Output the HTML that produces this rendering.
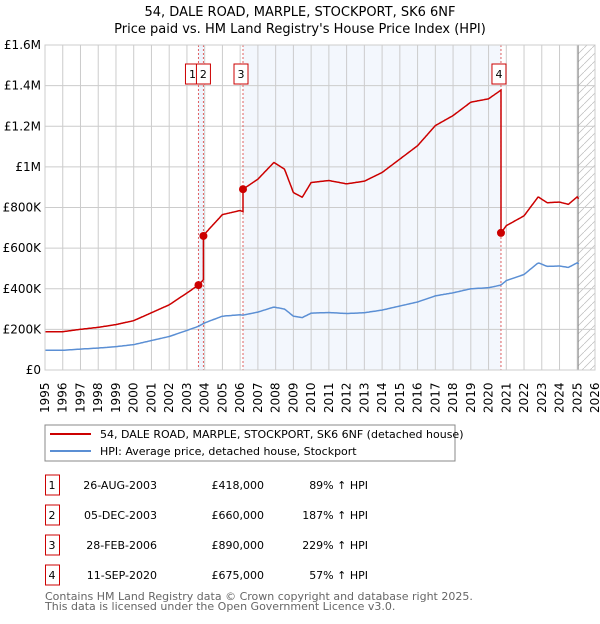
<!DOCTYPE html>
<html><head><meta charset="utf-8"><style>
body{margin:0;background:#fff;font-family:"DejaVu Sans","Liberation Sans",sans-serif;}
svg text{font-family:"DejaVu Sans","Liberation Sans",sans-serif;}
</style></head><body>
<svg id="chart" width="600" height="620" xmlns="http://www.w3.org/2000/svg">
<text x="300" y="16" text-anchor="middle" font-size="13">54, DALE ROAD, MARPLE, STOCKPORT, SK6 6NF</text>
<text x="300" y="33" text-anchor="middle" font-size="13">Price paid vs. HM Land Registry's House Price Index (HPI)</text>
<g id="plot"></g>
<g>
<rect x="45" y="425" width="410" height="36" fill="#fff" stroke="#888"/>
<line x1="50" y1="434" x2="91" y2="434" stroke="#cc0000" stroke-width="2"/>
<text x="100" y="438" font-size="11">54, DALE ROAD, MARPLE, STOCKPORT, SK6 6NF (detached house)</text>
<line x1="50" y1="451" x2="91" y2="451" stroke="#5b8fd4" stroke-width="2"/>
<text x="100" y="455" font-size="11">HPI: Average price, detached house, Stockport</text>
</g>
<g id="table"></g>
<text x="45" y="600" font-size="11" fill="#666">Contains HM Land Registry data © Crown copyright and database right 2025.</text>
<text x="45" y="610" font-size="11" fill="#666">This data is licensed under the Open Government Licence v3.0.</text>
</svg>
<script>
const hpiYears=[1995,1996,1997,1998,1999,2000,2001,2002,2003,2003.65,2004,2005,2006,2006.16,2007,2007.9,2008.5,2009,2009.5,2010,2011,2012,2013,2014,2015,2016,2017,2018,2019,2020,2020.7,2021,2022,2022.8,2023.3,2024,2024.5,2025,2025.1];
const hpiValues=[97,97,103,108,115,125,145,165,195,215,232,265,272,270,285,310,300,265,258,280,283,278,282,295,315,335,365,380,400,405,418,440,470,528,510,512,505,528,520];
const saleDates=[2003.65,2003.93,2006.16,2020.7];
const salePrices=[418,660,890,675];
const saleLabels=["1","2","3","4"];
const saleDateText=["26-AUG-2003","05-DEC-2003","28-FEB-2006","11-SEP-2020"];
const salePriceText=["£418,000","£660,000","£890,000","£675,000"];
const saleHpiText=["89% ↑ HPI","187% ↑ HPI","229% ↑ HPI","57% ↑ HPI"];
const yTicks=[0,200,400,600,800,1000,1200,1400,1600];
const yTickLabels=["£0","£200K","£400K","£600K","£800K","£1M","£1.2M","£1.4M","£1.6M"];
const L=45,R=595,T=45,B=370;
const x=y=>L+(y-1995)/(2026-1995)*(R-L);
const yy=v=>B-v/1600*(B-T);
const NS="http://www.w3.org/2000/svg";
const plot=document.getElementById('plot');
function mk(tag,attrs,parent){const e=document.createElementNS(NS,tag);for(const k in attrs)e.setAttribute(k,attrs[k]);(parent||plot).appendChild(e);return e;}
function hpiAt(t){for(let i=1;i<hpiYears.length;i++){if(t<=hpiYears[i]){const f=(t-hpiYears[i-1])/(hpiYears[i]-hpiYears[i-1]);return hpiValues[i-1]+f*(hpiValues[i]-hpiValues[i-1]);}}return hpiValues[hpiValues.length-1];}
// shading
let e=mk('rect',{x:x(saleDates[2]),y:T,width:x(saleDates[3])-x(saleDates[2]),height:B-T,fill:'#eef3fc',opacity:0.7});


e=mk('rect',{x:x(saleDates[0]),y:T,width:x(saleDates[1])-x(saleDates[0]),height:B-T,fill:'#eef3fc'});


// hatch
const defs=mk('defs',{});
const pat=mk('pattern',{id:'hatch',width:8,height:8,patternUnits:'userSpaceOnUse'},defs);
mk('path',{d:'M0,8 L8,0',stroke:'#bbb','stroke-width':0.7},pat);
e=mk('rect',{x:x(2025.05),y:T,width:R-x(2025.05),height:B-T,fill:'url(#hatch)'});


// grid
for(let yr=1995;yr<=2026;yr++){
 e=mk('line',{x1:x(yr),x2:x(yr),y1:T,y2:B,stroke:'#ccc','stroke-width':1});
 
 
 e=mk('text',{x:0,y:0,transform:`translate(${x(yr)+4},413) rotate(-90)`,'font-size':12});
 e.textContent=yr;
 
 
}
yTicks.forEach((v,i)=>{
 e=mk('line',{x1:L,x2:R,y1:yy(v),y2:yy(v),stroke:'#ccc','stroke-width':1});
 
 
 e=mk('text',{x:41,y:yy(v)+4,'text-anchor':'end','font-size':12});
 e.textContent=yTickLabels[i];
 
 
});
e=mk('line',{x1:x(2025.05),x2:x(2025.05),y1:T,y2:B,stroke:'#888','stroke-width':1});


// sale vlines
saleDates.forEach((d,i)=>{
 e=mk('line',{x1:x(d),x2:x(d),y1:T,y2:B,stroke:'#e06060','stroke-width':1,'stroke-dasharray':'2,2'});
 
 
});
// HPI line (fine sampling)
let pts=[];
for(let t=1995;t<=2025.1;t+=1/12){pts.push(x(t).toFixed(1)+','+yy(hpiAt(t)).toFixed(1));}
e=mk('polyline',{points:pts.join(' '),fill:'none',stroke:'#5b8fd4','stroke-width':1.5});


// price line scaled by hpi
pts=[];
const bounds=[1995,...saleDates,2025.1];
for(let s=0;s<bounds.length-1;s++){
 const refIdx=Math.max(0,s-1);
 const ratio=s===0?salePrices[0]/hpiAt(saleDates[0]):salePrices[s-1]/hpiAt(saleDates[s-1]);
 for(let t=bounds[s];t<bounds[s+1];t+=1/24){pts.push(x(t).toFixed(1)+','+yy(hpiAt(t)*ratio).toFixed(1));}
 if(s<saleDates.length){const r2=s===0?ratio:ratio;pts.push(x(bounds[s+1]).toFixed(1)+','+yy(hpiAt(bounds[s+1])*r2).toFixed(1));}
}
e=mk('polyline',{points:pts.join(' '),fill:'none',stroke:'#cc0000','stroke-width':1.5});


saleDates.forEach((d,i)=>{
 e=mk('circle',{cx:x(d),cy:yy(salePrices[i]),r:4,fill:'#cc0000'});
 
 
 const bx=x(d)+(i===0?-11:-7)+(i===1?2:0);
 e=mk('rect',{x:bx-2,y:64,width:14,height:20,fill:'#fff',stroke:'#cc0000'});
 
 
 e=mk('text',{x:bx+5,y:78,'text-anchor':'middle','font-size':11});
 e.textContent=saleLabels[i];
 
 
});
mk('rect',{x:L,y:T,width:R-L,height:B-T,fill:'none',stroke:'#ccc'});
// table
const tb=document.getElementById('table');
saleDates.forEach((d,i)=>{
 const cy=483+i*30;
 e=mk('rect',{x:45.5,y:cy-8,width:14,height:20,fill:'#fff',stroke:'#cc0000'},tb);
 
 
 const cells=[[52,saleLabels[i],'middle'],[157,saleDateText[i],'end'],[264,salePriceText[i],'end'],[368,saleHpiText[i],'end']];
 cells.forEach(c=>{
  e=mk('text',{x:c[0],y:cy+6,'text-anchor':c[2],'font-size':11},tb);
  e.textContent=c[1];
  
  
 });
});
</script>
</body></html>
